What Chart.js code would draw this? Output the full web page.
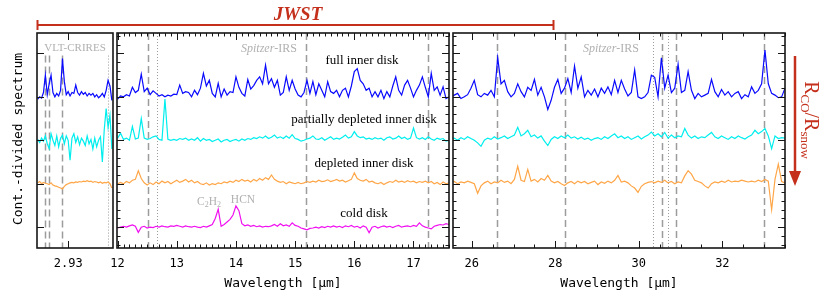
<!DOCTYPE html>
<html>
<head>
<meta charset="utf-8">
<script src="https://cdn.jsdelivr.net/npm/chart.js@4.4.1/dist/chart.umd.min.js"></script>
<style>
  body { margin: 0; background: #fff; }
  #wrap { position: relative; width: 830px; height: 299px; overflow: hidden; }
  #wrap canvas { position: absolute; top: 0; }
  #notes { position: absolute; left: 0; top: 0; pointer-events: none; }
  .lab { font-family: "Liberation Serif", serif; font-size: 13px; fill: #000; }
  .gray { font-family: "Liberation Serif", serif; fill: #b0b0b0; }
  .red { fill: #c4301c; font-family: "Liberation Serif", serif; }
</style>
</head>
<body>
<div id="wrap">
  <canvas id="crires" width="116" height="299" style="left:17px"></canvas>
  <canvas id="irs1" width="372" height="299" style="left:97px"></canvas>
  <canvas id="irs2" width="372" height="299" style="left:433px"></canvas>
  <svg id="notes" width="830" height="299">
    <path d="M37.5 20 V30 M37.5 25 H553.5 M553.5 20 V30" fill="none" stroke="#c4301c" stroke-width="2"/>
    <text x="298" y="20" class="red" font-size="19" font-weight="bold" font-style="italic" text-anchor="middle">JWST</text>
    <path d="M795 56 V172" stroke="#c4301c" stroke-width="2.5"/>
    <path d="M789 171 L801 171 L795 186 Z" fill="#c4301c"/>
    <text transform="translate(805 120) rotate(90)" class="red" font-size="20" text-anchor="middle">R<tspan dy="4" font-size="13">CO</tspan><tspan dy="-4">/R</tspan><tspan dy="4" font-size="13">snow</tspan></text>
    <text transform="translate(22 139) rotate(-90)" font-family="DejaVu Sans Mono" font-size="13" text-anchor="middle">Cont.-divided spectrum</text>

    <text x="75" y="51" class="gray" font-size="11" text-anchor="middle">VLT-CRIRES</text>
    <text x="269" y="52" class="gray" font-size="12" text-anchor="middle"><tspan font-style="italic">Spitzer</tspan>-IRS</text>
    <text x="611" y="52" class="gray" font-size="12" text-anchor="middle"><tspan font-style="italic">Spitzer</tspan>-IRS</text>

    <text x="362" y="64" class="lab" text-anchor="middle">full inner disk</text>
    <text x="364" y="123" class="lab" text-anchor="middle">partially depleted inner disk</text>
    <text x="364" y="167" class="lab" text-anchor="middle">depleted inner disk</text>
    <text x="364" y="217" class="lab" text-anchor="middle">cold disk</text>
    <text x="209" y="205" class="gray" font-size="11.5" text-anchor="middle">C<tspan dy="2" font-size="8">2</tspan><tspan dy="-2">H</tspan><tspan dy="2" font-size="8">2</tspan></text>
    <text x="243" y="203" class="gray" font-size="11.5" text-anchor="middle">HCN</text>
  </svg>
</div>
<script>
// wavelength grids (micron)
function grid(start, step, n) {
  return Array.from({length: n}, (_, i) => +(start + i * step).toFixed(4));
}
const lamCrires = grid(2.922, 0.0005, 40);
const lamShort = grid(12.0, 0.05, 113);
const lamLong = grid(25.5, 0.08, 101);

// continuum-divided excess flux, one array per disk class and window
const fullCrires = [
  -0.05, 0.00, -0.03, 0.10, 0.50, 0.05, 0.30, 0.50, 0.10, 0.00,
  0.08, 0.02, 0.15, 0.88, 0.35, 0.05, 0.12, 0.02, 0.10, 0.08,
  0.27, 0.10, 0.04, 0.12, 0.06, 0.10, 0.02, 0.08, 0.04, 0.08,
  0.00, 0.05, -0.02, 0.02, 0.08, 0.00, 0.15, 0.38, 0.25, -0.08];
const partialCrires = [
  0.02, -0.05, 0.05, -0.02, 0.10, -0.08, -0.19, 0.15, 0.00, -0.12,
  0.10, -0.15, 0.05, 0.12, -0.08, 0.10, 0.00, -0.46, 0.05, 0.15,
  -0.05, 0.08, -0.10, 0.05, -0.02, -0.12, 0.10, -0.08, 0.02, -0.20,
  0.05, -0.15, 0.00, 0.08, -0.50, 0.25, 0.73, 0.30, 0.58, -0.20];
const depletedCrires = [
  0.02, 0.05, 0.00, 0.03, 0.01, 0.00, -0.02, 0.02, -0.03, -0.05,
  -0.06, -0.08, -0.10, -0.12, -0.06, -0.02, 0.00, 0.02, 0.03, 0.02,
  0.04, 0.03, 0.05, 0.04, 0.06, 0.05, 0.07, 0.05, 0.06, 0.03,
  0.05, 0.04, 0.02, 0.04, 0.01, 0.03, 0.02, 0.04, 0.00, -0.10];

const fullShort = [
  -0.05, 0.02, 0.00, 0.05, 0.02, 0.22, 0.10, 0.15, 0.52, 0.12,
  0.20, 0.05, 0.14, 0.08, 0.02, 0.05, 0.00, 0.04, 0.02, 0.06,
  0.05, 0.27, 0.08, 0.12, 0.10, 0.00, 0.15, 0.05, 0.20, 0.54,
  0.25, 0.38, 0.08, 0.00, 0.31, 0.00, 0.18, 0.04, 0.12, 0.10,
  0.46, 0.22, 0.08, 0.02, 0.40, 0.18, 0.26, 0.38, 0.46, 0.30,
  0.73, 0.30, 0.42, 0.22, 0.38, 0.04, 0.10, 0.46, 0.15, 0.38,
  0.18, 0.04, 0.00, 0.10, 0.38, 0.08, 0.35, 0.05, 0.30, 0.15,
  0.00, 0.35, 0.12, 0.08, 0.15, 0.00, 0.15, 0.20, 0.00, 0.25,
  0.58, 0.65, 0.38, 0.30, 0.15, 0.20, 0.00, 0.12, 0.00, 0.15,
  -0.04, 0.12, 0.00, 0.25, 0.46, 0.15, 0.04, 0.27, 0.38, 0.20,
  0.00, 0.15, 0.27, 0.46, 0.22, 0.00, 0.54, 0.15, 0.23, 0.04,
  0.23, -0.04, 0.00];
const partialShort = [
  0.05, 0.16, 0.02, 0.05, 0.00, 0.32, 0.03, 0.05, 0.50, 0.05,
  0.02, 0.04, 0.08, 0.10, 0.02, 0.00, 0.95, 0.02, 0.00, 0.02,
  0.00, 0.04, 0.02, 0.05, 0.00, 0.03, 0.00, 0.06, -0.02, 0.04,
  0.00, 0.02, -0.03, 0.00, 0.03, -0.04, 0.00, 0.02, -0.03, 0.00,
  0.02, -0.02, 0.03, 0.00, 0.04, 0.02, 0.06, 0.04, 0.08, 0.05,
  0.10, 0.04, 0.07, 0.12, 0.05, 0.08, 0.04, 0.10, 0.05, 0.13,
  0.04, 0.02, -0.02, 0.00, 0.03, 0.05, 0.10, 0.03, 0.02, 0.06,
  0.00, 0.04, 0.08, 0.02, 0.05, 0.03, 0.07, 0.12, 0.05, 0.08,
  0.20, 0.10, 0.06, 0.08, 0.03, 0.05, 0.02, 0.06, 0.03, 0.05,
  0.00, 0.06, 0.08, 0.03, 0.05, 0.10, 0.04, 0.07, 0.02, 0.05,
  0.28, 0.06, 0.03, 0.06, 0.02, 0.08, 0.03, 0.00, 0.05, 0.02,
  0.04, -0.02, 0.00];
const depletedShort = [
  0.00, 0.03, 0.00, 0.05, 0.02, 0.08, 0.10, 0.30, 0.12, 0.02,
  -0.03, 0.02, -0.02, 0.04, 0.00, 0.06, 0.02, 0.05, 0.00, 0.04,
  0.08, 0.03, 0.06, 0.10, 0.04, 0.08, 0.02, 0.05, 0.00, -0.02,
  0.02, -0.03, 0.00, -0.02, 0.02, 0.00, 0.04, 0.02, 0.06, 0.03,
  0.08, 0.05, 0.10, 0.06, 0.08, 0.04, 0.10, 0.06, 0.12, 0.08,
  0.14, 0.10, 0.20, 0.10, 0.06, 0.03, 0.05, 0.00, 0.04, 0.02,
  0.00, 0.03, 0.00, 0.02, 0.05, 0.03, 0.06, 0.04, 0.08, 0.05,
  0.06, 0.09, 0.05, 0.07, 0.10, 0.06, 0.08, 0.04, 0.07, 0.10,
  0.25, 0.12, 0.08, 0.06, 0.10, 0.04, 0.06, 0.02, 0.00, 0.03,
  -0.02, 0.02, 0.05, 0.03, 0.08, 0.04, 0.06, 0.03, 0.07, 0.04,
  0.06, 0.02, 0.05, 0.03, 0.06, 0.02, 0.05, 0.00, 0.03, -0.02,
  0.04, 0.00, 0.02];
const coldShort = [
  -0.02, 0.00, 0.02, 0.00, 0.03, 0.05, 0.02, -0.12, 0.00, 0.02,
  -0.02, 0.00, -0.01, 0.02, 0.00, 0.03, 0.01, 0.00, 0.03, 0.02,
  0.04, 0.02, 0.00, 0.03, 0.01, 0.00, 0.02, 0.00, -0.01, 0.02,
  0.00, 0.03, 0.06, 0.20, 0.41, 0.02, 0.06, 0.12, 0.18, 0.28,
  0.49, 0.38, 0.08, 0.03, 0.05, 0.02, 0.04, 0.01, 0.03, 0.00,
  0.02, 0.01, 0.03, 0.06, 0.02, 0.08, 0.03, 0.05, 0.02, 0.10,
  0.04, 0.02, -0.02, -0.04, -0.06, -0.03, -0.02, 0.00, -0.02, 0.01,
  -0.01, 0.02, 0.00, 0.03, 0.00, 0.02, -0.01, 0.03, 0.01, 0.04,
  0.00, 0.02, -0.02, 0.03, 0.00, -0.13, 0.00, 0.02, -0.02, 0.01,
  0.03, 0.00, 0.02, -0.01, 0.02, 0.04, 0.00, 0.02, 0.03, 0.01,
  0.04, 0.02, 0.10, 0.03, 0.00, -0.02, -0.04, 0.02, 0.04, 0.06,
  0.05, 0.08, 0.06];

const fullLong = [
  0.00, 0.04, 0.08, -0.04, 0.00, 0.05, 0.20, 0.38, 0.05, 0.00,
  0.08, 0.04, 0.15, 0.00, 0.90, 0.30, 0.38, 0.12, 0.00, 0.08,
  0.30, 0.12, 0.00, 0.22, 0.15, 0.40, 0.04, 0.22, 0.00, -0.29,
  -0.08, 0.22, 0.40, 0.08, 0.20, 0.42, 0.10, 0.71, 0.20, 0.46,
  0.00, 0.15, 0.04, 0.18, 0.00, 0.20, 0.08, 0.23, 0.05, 0.38,
  0.10, 0.38, 0.18, 0.02, 0.10, 0.62, 0.00, -0.04, 0.00, 0.10,
  0.50, 0.45, 0.00, 0.90, 0.20, 0.50, 0.10, 0.20, 0.75, 0.10,
  0.15, 0.58, 0.15, -0.04, 0.08, 0.00, 0.04, 0.08, 0.40, 0.12,
  0.00, 0.17, 0.04, 0.12, 0.00, 0.08, 0.12, -0.04, 0.05, 0.00,
  0.23, 0.08, 0.15, 0.30, 1.08, 0.30, 0.08, 0.04, -0.02, 0.00,
  0.20];
const partialLong = [
  0.02, 0.05, 0.00, 0.06, 0.02, 0.08, 0.04, 0.00, -0.06, -0.14,
  0.00, 0.05, 0.02, 0.08, 0.03, 0.06, 0.10, 0.04, 0.08, 0.12,
  0.30, 0.10, 0.15, 0.23, 0.08, 0.12, 0.05, 0.10, -0.02, -0.12,
  0.02, 0.08, 0.04, 0.10, 0.06, 0.12, 0.05, 0.08, 0.03, 0.07,
  0.02, 0.05, 0.00, 0.04, 0.06, 0.02, 0.08, 0.04, 0.10, 0.15,
  0.06, 0.10, 0.04, 0.08, 0.02, 0.06, 0.10, 0.03, 0.08, 0.12,
  0.19, 0.10, 0.15, 0.08, 0.18, 0.05, 0.12, 0.06, 0.10, 0.08,
  0.27, 0.12, 0.05, 0.10, 0.04, 0.08, 0.06, 0.12, 0.18, 0.08,
  0.04, 0.10, 0.06, 0.02, 0.08, 0.04, 0.10, 0.06, 0.03, 0.08,
  0.12, 0.23, 0.15, 0.20, 0.27, 0.10, -0.19, 0.10, 0.04, 0.06,
  0.05];
const depletedLong = [
  0.02, 0.05, 0.00, 0.04, 0.02, 0.06, 0.03, 0.00, -0.22, -0.05,
  0.02, 0.06, 0.00, 0.04, 0.02, 0.08, 0.03, 0.06, 0.00, 0.10,
  0.40, 0.08, 0.05, 0.33, 0.06, 0.10, 0.04, 0.12, 0.08, 0.19,
  0.06, 0.02, 0.05, 0.00, -0.04, 0.02, 0.05, 0.00, 0.06, 0.02,
  0.05, 0.00, 0.03, 0.06, -0.02, 0.04, 0.01, 0.06, 0.02, 0.08,
  0.19, 0.04, 0.06, 0.02, -0.05, -0.10, -0.20, -0.06, 0.00, 0.03,
  0.05, 0.02, 0.06, 0.03, 0.08, 0.02, 0.05, 0.00, 0.04, 0.02,
  0.18, 0.30, 0.22, 0.08, 0.05, 0.02, -0.05, -0.10, 0.00, 0.04,
  0.02, 0.06, 0.03, 0.08, 0.04, 0.06, 0.05, 0.08, 0.06, 0.04,
  0.06, 0.04, 0.08, 0.05, 0.10, 0.06, -0.60, 0.10, 0.45, 0.05,
  0.02];

// marked line positions (micron)
const dashedCrires = [2.9239, 2.9250, 2.9284];
const dottedCrires = [2.9405];
const dashedShort = [12.52, 15.19, 17.24];
const dottedShort = [12.66];
const dashedLong = [26.60, 28.23, 30.56, 30.89, 33.00];
const dottedLong = [30.34, 30.70];

const OFFSET = {full: 3, partial: 2, depleted: 1, cold: 0};
const COLOR = {full: '#0a0aff', partial: '#00eeee', depleted: '#ffa648', cold: '#f010f0'};
const MONO = 'DejaVu Sans Mono';

const framePlugin = {
  id: 'frame',
  beforeDatasetsDraw(chart, args, o) {
    const {ctx, chartArea: a, scales: {x, y}} = chart;
    const top = o.lineTop !== undefined ? y.getPixelForValue(o.lineTop) : a.top;
    ctx.save();
    ctx.beginPath();
    ctx.rect(a.left, a.top, a.width, a.height);
    ctx.clip();
    ctx.strokeStyle = '#9c9c9c';
    const vline = (w) => {
      const px = Math.round(x.getPixelForValue(w)) + 0.5;
      ctx.beginPath();
      ctx.moveTo(px, top);
      ctx.lineTo(px, a.bottom);
      ctx.stroke();
    };
    ctx.lineWidth = 1.5;
    ctx.setLineDash([7, 4]);
    o.dashed.forEach(vline);
    ctx.lineWidth = 1;
    ctx.setLineDash([1, 2]);
    o.dotted.forEach(vline);
    ctx.restore();
  },
  afterDraw(chart, args, o) {
    const {ctx, chartArea: a, scales: {x, y}} = chart;
    ctx.save();
    ctx.strokeStyle = '#161616';
    ctx.lineWidth = 1;
    ctx.beginPath();
    // x ticks, bottom and top, pointing inward
    const xt = o.major.map(v => [v, 7]);
    if (o.minor) {
      for (let k = Math.ceil(o.min / o.minor - 1e-6); k * o.minor <= o.max + 1e-9; k++) {
        xt.push([k * o.minor, 3.5]);
      }
    }
    xt.forEach(([v, len]) => {
      const px = Math.round(x.getPixelForValue(v)) + 0.5;
      ctx.moveTo(px, a.bottom); ctx.lineTo(px, a.bottom - len);
      ctx.moveTo(px, a.top); ctx.lineTo(px, a.top + len);
    });
    // y ticks
    const yt = [];
    for (let k = -2; k <= 22; k++) {
      const v = k * 0.2;
      if (v < y.min || v > y.max) continue;
      const major = k % 5 === 0;
      if (major || o.yMinor) yt.push([v, major ? 7 : 3.5]);
    }
    yt.forEach(([v, len]) => {
      const py = Math.round(y.getPixelForValue(v)) + 0.5;
      if (o.ySides.includes('left')) { ctx.moveTo(a.left, py); ctx.lineTo(a.left + len, py); }
      if (o.ySides.includes('right')) { ctx.moveTo(a.right, py); ctx.lineTo(a.right - len, py); }
    });
    ctx.stroke();
    ctx.lineWidth = 1.6;
    ctx.strokeRect(a.left, a.top, a.width, a.height);
    ctx.restore();
  }
};

function makePanel(id, lam, series, cfg) {
  return new Chart(document.getElementById(id), {
    type: 'line',
    data: {
      datasets: series.map(s => ({
        data: lam.map((w, i) => ({x: w, y: s.vals[i] + OFFSET[s.key]})),
        borderColor: COLOR[s.key],
        borderWidth: 1.2,
        pointRadius: 0,
        tension: 0,
        fill: false
      }))
    },
    options: {
      responsive: false,
      animation: false,
      events: [],
      layout: {padding: {left: 20, right: 20, top: 33, bottom: 8}},
      plugins: {legend: {display: false}, tooltip: {enabled: false}, frame: cfg},
      scales: {
        x: {
          type: 'linear',
          min: cfg.min,
          max: cfg.max,
          afterBuildTicks: s => { s.ticks = cfg.major.map(v => ({value: v})); },
          afterFit: s => { s.height = 43; },
          grid: {display: false, drawTicks: false},
          border: {display: false},
          ticks: {
            padding: 9, autoSkip: false, maxRotation: 0, color: '#000',
            font: {family: MONO, size: 12},
            callback: v => String(v)
          },
          title: {
            display: !!cfg.title, text: cfg.title || '', padding: 0, color: '#000',
            font: {family: MONO, size: 13}
          }
        },
        y: {display: false, min: -0.48, max: 4.47}
      }
    },
    plugins: [framePlugin]
  });
}

makePanel('crires', lamCrires, [
  {key: 'depleted', vals: depletedCrires},
  {key: 'partial', vals: partialCrires},
  {key: 'full', vals: fullCrires}
], {min: 2.9218, max: 2.9418, major: [2.93], minor: 0, yMinor: false, ySides: ['left'],
    dashed: dashedCrires, dotted: dottedCrires, lineTop: 3.95});

makePanel('irs1', lamShort, [
  {key: 'cold', vals: coldShort},
  {key: 'depleted', vals: depletedShort},
  {key: 'partial', vals: partialShort},
  {key: 'full', vals: fullShort}
], {min: 11.99, max: 17.6, major: [12, 13, 14, 15, 16, 17], minor: 0.1, yMinor: true,
    ySides: ['left', 'right'], dashed: dashedShort, dotted: dottedShort, title: 'Wavelength [μm]'});

makePanel('irs2', lamLong, [
  {key: 'depleted', vals: depletedLong},
  {key: 'partial', vals: partialLong},
  {key: 'full', vals: fullLong}
], {min: 25.55, max: 33.5, major: [26, 28, 30, 32], minor: 0.5, yMinor: true,
    ySides: ['left', 'right'], dashed: dashedLong, dotted: dottedLong, title: 'Wavelength [μm]'});
</script>
</body>
</html>
